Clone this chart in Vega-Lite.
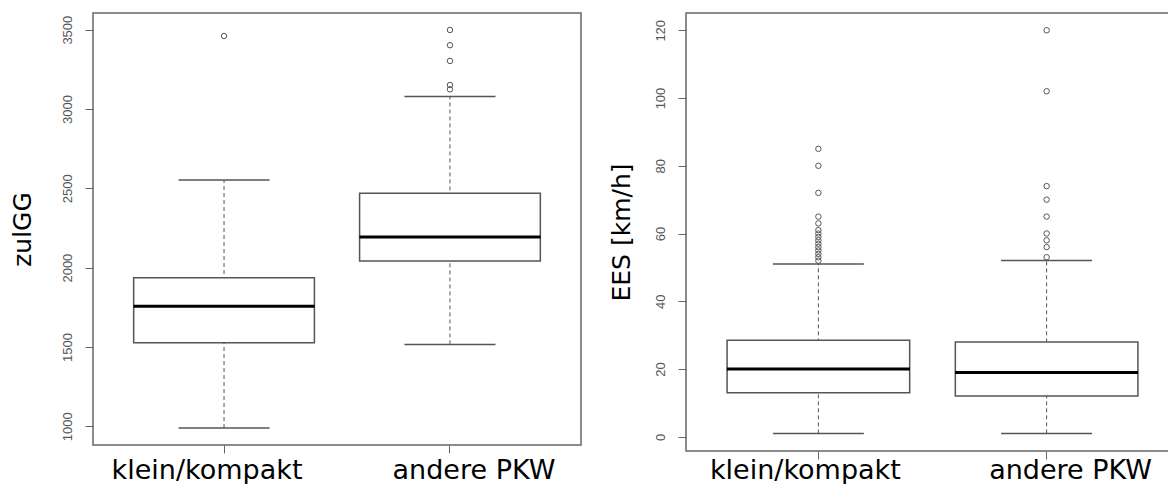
{
  "$schema": "https://vega.github.io/schema/vega-lite/v6.json",
  "background": "white",
  "padding": {"left": 9, "top": 12, "right": 0, "bottom": 0},
  "spacing": 26,
  "datasets": {
    "zul_stats": [
      {"Klasse": "klein/kompakt", "lower": 989, "q1": 1527, "median": 1756, "q3": 1936, "upper": 2552},
      {"Klasse": "andere PKW", "lower": 1516, "q1": 2042, "median": 2193, "q3": 2469, "upper": 3078}
    ],
    "zul_out": [
      {"Klasse": "klein/kompakt", "value": 3460},
      {"Klasse": "andere PKW", "value": 3498},
      {"Klasse": "andere PKW", "value": 3402},
      {"Klasse": "andere PKW", "value": 3303},
      {"Klasse": "andere PKW", "value": 3151},
      {"Klasse": "andere PKW", "value": 3124}
    ],
    "ees_stats": [
      {"Klasse": "klein/kompakt", "lower": 1, "q1": 13, "median": 20, "q3": 28.5, "upper": 51},
      {"Klasse": "andere PKW", "lower": 1, "q1": 12, "median": 19, "q3": 28, "upper": 52}
    ],
    "ees_out": [
      {"Klasse": "klein/kompakt", "value": 85},
      {"Klasse": "klein/kompakt", "value": 80},
      {"Klasse": "klein/kompakt", "value": 72},
      {"Klasse": "klein/kompakt", "value": 65},
      {"Klasse": "klein/kompakt", "value": 63},
      {"Klasse": "klein/kompakt", "value": 61},
      {"Klasse": "klein/kompakt", "value": 60},
      {"Klasse": "klein/kompakt", "value": 59},
      {"Klasse": "klein/kompakt", "value": 58},
      {"Klasse": "klein/kompakt", "value": 57},
      {"Klasse": "klein/kompakt", "value": 56},
      {"Klasse": "klein/kompakt", "value": 55},
      {"Klasse": "klein/kompakt", "value": 54},
      {"Klasse": "klein/kompakt", "value": 53},
      {"Klasse": "klein/kompakt", "value": 52},
      {"Klasse": "andere PKW", "value": 120},
      {"Klasse": "andere PKW", "value": 102},
      {"Klasse": "andere PKW", "value": 74},
      {"Klasse": "andere PKW", "value": 70},
      {"Klasse": "andere PKW", "value": 65},
      {"Klasse": "andere PKW", "value": 60},
      {"Klasse": "andere PKW", "value": 58},
      {"Klasse": "andere PKW", "value": 56},
      {"Klasse": "andere PKW", "value": 53}
    ]
  },
  "config": {
    "view": {"stroke": "#666666", "strokeWidth": 1.5},
    "tick": {"opacity": 1},
    "axisY": {
      "domain": false, "grid": false, "tickColor": "#666666", "tickSize": 8, "tickWidth": 1,
      "labelFont": "Liberation Sans", "labelFontSize": 13, "labelColor": "#555555", "labelAngle": 270, "labelPadding": 11,
      "titleFont": "DejaVu Sans", "titleFontSize": 25, "titleFontWeight": "normal", "titleColor": "black", "titlePadding": 26
    },
    "axisX": {
      "domain": false, "grid": false, "tickColor": "#666666", "tickSize": 8, "tickWidth": 1,
      "labelFont": "DejaVu Sans", "labelFontSize": 27, "labelColor": "black", "labelAngle": 0, "labelPadding": 4,
      "labelLimit": 0, "labelOverlap": false
    }
  },
  "hconcat": [
    {
      "width": 488,
      "height": 432,
      "layer": [
        {
          "data": {"name": "zul_stats"},
          "mark": {"type": "rule", "color": "#555555", "strokeWidth": 1, "strokeDash": [4, 3]},
          "encoding": {
            "x": {"field": "Klasse", "type": "nominal", "sort": ["klein/kompakt", "andere PKW"], "title": null,
                  "scale": {"paddingInner": 0.2, "paddingOuter": 0.18},
                  "axis": {"labelOffset": {"condition": {"test": "datum.value === 'klein/kompakt'", "value": -17}, "value": 24}}},
            "y": {"field": "lower", "type": "quantitative", "title": "zulGG",
                  "scale": {"domain": [882, 3605], "nice": false, "zero": false},
                  "axis": {"values": [1000, 1500, 2000, 2500, 3000, 3500], "format": "d"}},
            "y2": {"field": "upper"}
          }
        },
        {
          "data": {"name": "zul_stats"},
          "mark": {"type": "bar", "fill": "white", "stroke": "#555555", "strokeWidth": 1.5},
          "encoding": {
            "x": {"field": "Klasse", "type": "nominal", "sort": ["klein/kompakt", "andere PKW"]},
            "y": {"field": "q1", "type": "quantitative"},
            "y2": {"field": "q3"}
          }
        },
        {
          "data": {"name": "zul_stats"},
          "mark": {"type": "tick", "color": "#555555", "thickness": 1.5, "size": 91, "opacity": 1},
          "encoding": {
            "x": {"field": "Klasse", "type": "nominal", "sort": ["klein/kompakt", "andere PKW"]},
            "y": {"field": "lower", "type": "quantitative"}
          }
        },
        {
          "data": {"name": "zul_stats"},
          "mark": {"type": "tick", "color": "#555555", "thickness": 1.5, "size": 91, "opacity": 1},
          "encoding": {
            "x": {"field": "Klasse", "type": "nominal", "sort": ["klein/kompakt", "andere PKW"]},
            "y": {"field": "upper", "type": "quantitative"}
          }
        },
        {
          "data": {"name": "zul_stats"},
          "mark": {"type": "tick", "color": "black", "thickness": 3, "size": 181, "opacity": 1},
          "encoding": {
            "x": {"field": "Klasse", "type": "nominal", "sort": ["klein/kompakt", "andere PKW"]},
            "y": {"field": "median", "type": "quantitative"}
          }
        },
        {
          "data": {"name": "zul_out"},
          "mark": {"type": "point", "shape": "circle", "filled": false, "stroke": "#555555", "strokeWidth": 1, "size": 30, "opacity": 1},
          "encoding": {
            "x": {"field": "Klasse", "type": "nominal", "sort": ["klein/kompakt", "andere PKW"]},
            "y": {"field": "value", "type": "quantitative"}
          }
        }
      ]
    },
    {
      "width": 493,
      "height": 438,
      "layer": [
        {
          "data": {"name": "ees_stats"},
          "mark": {"type": "rule", "color": "#555555", "strokeWidth": 1, "strokeDash": [4, 3]},
          "encoding": {
            "x": {"field": "Klasse", "type": "nominal", "sort": ["klein/kompakt", "andere PKW"], "title": null,
                  "scale": {"paddingInner": 0.2, "paddingOuter": 0.18},
                  "axis": {"labelPadding": -2, "labelOffset": {"condition": {"test": "datum.value === 'klein/kompakt'", "value": -13}, "value": 24}}},
            "y": {"field": "lower", "type": "quantitative", "title": "EES [km/h]",
                  "scale": {"domain": [-4.2, 125.1], "nice": false, "zero": false},
                  "axis": {"values": [0, 20, 40, 60, 80, 100, 120], "titlePadding": 20}},
            "y2": {"field": "upper"}
          }
        },
        {
          "data": {"name": "ees_stats"},
          "mark": {"type": "bar", "fill": "white", "stroke": "#555555", "strokeWidth": 1.5},
          "encoding": {
            "x": {"field": "Klasse", "type": "nominal", "sort": ["klein/kompakt", "andere PKW"]},
            "y": {"field": "q1", "type": "quantitative"},
            "y2": {"field": "q3"}
          }
        },
        {
          "data": {"name": "ees_stats"},
          "mark": {"type": "tick", "color": "#555555", "thickness": 1.5, "size": 91, "opacity": 1},
          "encoding": {
            "x": {"field": "Klasse", "type": "nominal", "sort": ["klein/kompakt", "andere PKW"]},
            "y": {"field": "lower", "type": "quantitative"}
          }
        },
        {
          "data": {"name": "ees_stats"},
          "mark": {"type": "tick", "color": "#555555", "thickness": 1.5, "size": 91, "opacity": 1},
          "encoding": {
            "x": {"field": "Klasse", "type": "nominal", "sort": ["klein/kompakt", "andere PKW"]},
            "y": {"field": "upper", "type": "quantitative"}
          }
        },
        {
          "data": {"name": "ees_stats"},
          "mark": {"type": "tick", "color": "black", "thickness": 3, "size": 183, "opacity": 1},
          "encoding": {
            "x": {"field": "Klasse", "type": "nominal", "sort": ["klein/kompakt", "andere PKW"]},
            "y": {"field": "median", "type": "quantitative"}
          }
        },
        {
          "data": {"name": "ees_out"},
          "mark": {"type": "point", "shape": "circle", "filled": false, "stroke": "#555555", "strokeWidth": 1, "size": 30, "opacity": 1},
          "encoding": {
            "x": {"field": "Klasse", "type": "nominal", "sort": ["klein/kompakt", "andere PKW"]},
            "y": {"field": "value", "type": "quantitative"}
          }
        }
      ]
    }
  ]
}
